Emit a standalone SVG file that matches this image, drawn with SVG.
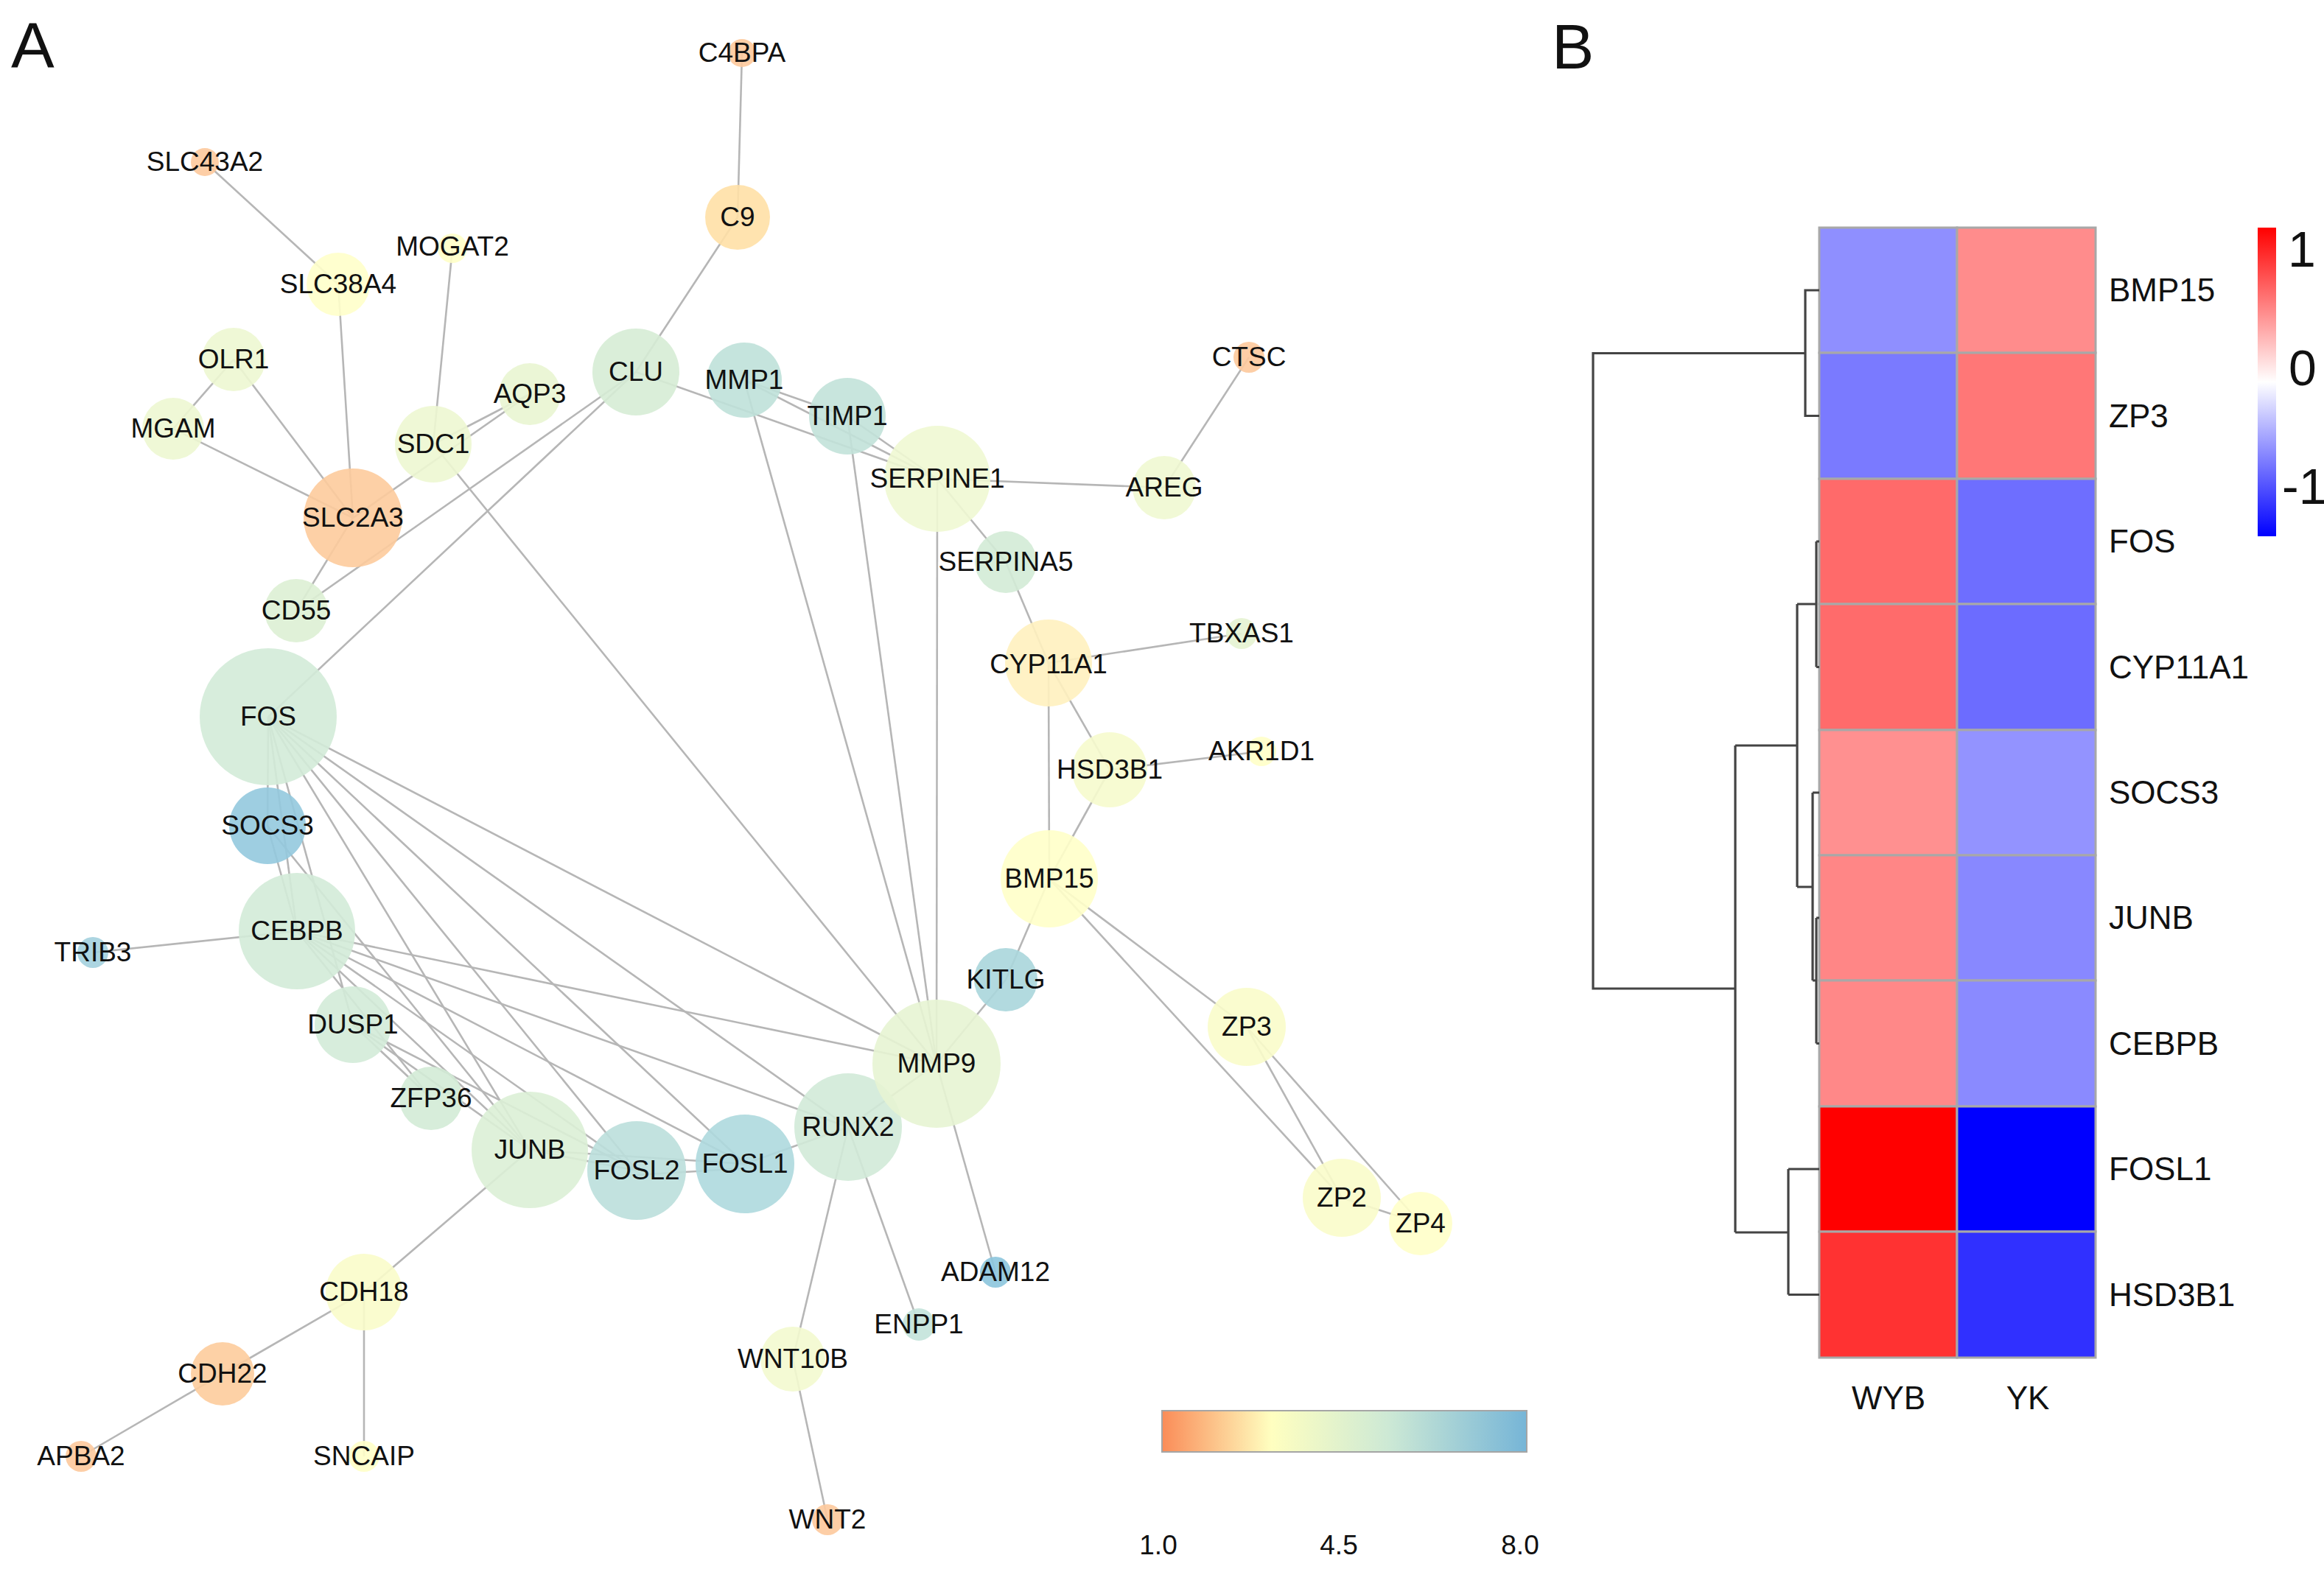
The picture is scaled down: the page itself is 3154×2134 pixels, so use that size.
<svg xmlns="http://www.w3.org/2000/svg" width="3154" height="2134" viewBox="0 0 3154 2134">
<defs>
<style>
.e{stroke:#b6b6b6;stroke-width:2.6;fill:none}
.n circle{opacity:0.9}
.n text{font-family:"Liberation Sans",Arial,sans-serif;font-size:37px;fill:#111;text-anchor:middle}
.t{font-family:"Liberation Sans",Arial,sans-serif;fill:#111}
.cell{stroke:#a8a8a8;stroke-width:3}
.den{stroke:#444;stroke-width:3.2;fill:none}
</style>
<linearGradient id="gNet" x1="0" y1="0" x2="1" y2="0">
<stop offset="0" stop-color="#FA8C58"/>
<stop offset="0.3" stop-color="#FFFFC0"/>
<stop offset="0.62" stop-color="#CDE9D5"/>
<stop offset="1" stop-color="#76B5D7"/>
</linearGradient>
<linearGradient id="gHeat" x1="0" y1="0" x2="0" y2="1">
<stop offset="0" stop-color="#FF0000"/>
<stop offset="0.5" stop-color="#FFFFFF"/>
<stop offset="1" stop-color="#0000FF"/>
</linearGradient>
</defs>
<rect width="3154" height="2134" fill="#ffffff"/>
<text class="t" x="15" y="92" font-size="88">A</text>
<text class="t" x="2106" y="93" font-size="86">B</text>

<g id="edges">
<line class="e" x1="1007" y1="72" x2="1001" y2="295"/>
<line class="e" x1="1001" y1="295" x2="863" y2="505"/>
<line class="e" x1="278" y1="220" x2="459" y2="386"/>
<line class="e" x1="459" y1="386" x2="479" y2="703"/>
<line class="e" x1="614" y1="337" x2="588" y2="603"/>
<line class="e" x1="317" y1="488" x2="235" y2="582"/>
<line class="e" x1="317" y1="488" x2="479" y2="703"/>
<line class="e" x1="235" y1="582" x2="479" y2="703"/>
<line class="e" x1="479" y1="703" x2="719" y2="535"/>
<line class="e" x1="588" y1="603" x2="719" y2="535"/>
<line class="e" x1="479" y1="703" x2="402" y2="829"/>
<line class="e" x1="402" y1="829" x2="863" y2="505"/>
<line class="e" x1="364" y1="973" x2="863" y2="505"/>
<line class="e" x1="863" y1="505" x2="1272" y2="650"/>
<line class="e" x1="1010" y1="516" x2="1150" y2="565"/>
<line class="e" x1="1010" y1="516" x2="1272" y2="650"/>
<line class="e" x1="1150" y1="565" x2="1272" y2="650"/>
<line class="e" x1="1010" y1="516" x2="1271" y2="1444"/>
<line class="e" x1="1150" y1="565" x2="1271" y2="1444"/>
<line class="e" x1="1272" y1="650" x2="1271" y2="1444"/>
<line class="e" x1="1272" y1="650" x2="1580" y2="662"/>
<line class="e" x1="1580" y1="662" x2="1695" y2="485"/>
<line class="e" x1="1272" y1="650" x2="1365" y2="763"/>
<line class="e" x1="1365" y1="763" x2="1423" y2="900"/>
<line class="e" x1="1423" y1="900" x2="1685" y2="860"/>
<line class="e" x1="1423" y1="900" x2="1506" y2="1045"/>
<line class="e" x1="1423" y1="900" x2="1424" y2="1193"/>
<line class="e" x1="1506" y1="1045" x2="1712" y2="1020"/>
<line class="e" x1="1506" y1="1045" x2="1424" y2="1193"/>
<line class="e" x1="1424" y1="1193" x2="1365" y2="1330"/>
<line class="e" x1="1365" y1="1330" x2="1271" y2="1444"/>
<line class="e" x1="1424" y1="1193" x2="1692" y2="1394"/>
<line class="e" x1="1424" y1="1193" x2="1821" y2="1626"/>
<line class="e" x1="1692" y1="1394" x2="1821" y2="1626"/>
<line class="e" x1="1692" y1="1394" x2="1928" y2="1661"/>
<line class="e" x1="1821" y1="1626" x2="1928" y2="1661"/>
<line class="e" x1="1271" y1="1444" x2="1351" y2="1727"/>
<line class="e" x1="1151" y1="1530" x2="1247" y2="1798"/>
<line class="e" x1="1151" y1="1530" x2="1076" y2="1845"/>
<line class="e" x1="1076" y1="1845" x2="1123" y2="2063"/>
<line class="e" x1="588" y1="603" x2="1271" y2="1444"/>
<line class="e" x1="364" y1="973" x2="1271" y2="1444"/>
<line class="e" x1="364" y1="973" x2="1151" y2="1530"/>
<line class="e" x1="364" y1="973" x2="1011" y2="1580"/>
<line class="e" x1="364" y1="973" x2="864" y2="1589"/>
<line class="e" x1="364" y1="973" x2="719" y2="1561"/>
<line class="e" x1="364" y1="973" x2="479" y2="1391"/>
<line class="e" x1="364" y1="973" x2="403" y2="1264"/>
<line class="e" x1="364" y1="973" x2="363" y2="1121"/>
<line class="e" x1="363" y1="1121" x2="403" y2="1264"/>
<line class="e" x1="363" y1="1121" x2="719" y2="1561"/>
<line class="e" x1="403" y1="1264" x2="126" y2="1293"/>
<line class="e" x1="403" y1="1264" x2="719" y2="1561"/>
<line class="e" x1="403" y1="1264" x2="864" y2="1589"/>
<line class="e" x1="403" y1="1264" x2="1011" y2="1580"/>
<line class="e" x1="403" y1="1264" x2="1151" y2="1530"/>
<line class="e" x1="403" y1="1264" x2="1271" y2="1444"/>
<line class="e" x1="403" y1="1264" x2="585" y2="1491"/>
<line class="e" x1="479" y1="1391" x2="585" y2="1491"/>
<line class="e" x1="479" y1="1391" x2="719" y2="1561"/>
<line class="e" x1="479" y1="1391" x2="864" y2="1589"/>
<line class="e" x1="719" y1="1561" x2="864" y2="1589"/>
<line class="e" x1="719" y1="1561" x2="1011" y2="1580"/>
<line class="e" x1="864" y1="1595" x2="1011" y2="1586"/>
<line class="e" x1="1011" y1="1580" x2="1151" y2="1530"/>
<line class="e" x1="1151" y1="1530" x2="1271" y2="1444"/>
<line class="e" x1="719" y1="1561" x2="494" y2="1754"/>
<line class="e" x1="494" y1="1754" x2="302" y2="1865"/>
<line class="e" x1="494" y1="1754" x2="494" y2="1977"/>
<line class="e" x1="302" y1="1865" x2="110" y2="1977"/>
</g>

<g id="node-C4BPA" class="n"><circle cx="1007" cy="72" r="19" fill="#FDC99C"/><text x="1007" y="84">C4BPA</text></g>
<g id="node-SLC43A2" class="n"><circle cx="278" cy="220" r="19" fill="#FDC99C"/><text x="278" y="232">SLC43A2</text></g>
<g id="node-C9" class="n"><circle cx="1001" cy="295" r="44" fill="#FFE0A6"/><text x="1001" y="307">C9</text></g>
<g id="node-MOGAT2" class="n"><circle cx="614" cy="337" r="20" fill="#FFFFC8"/><text x="614" y="347">MOGAT2</text></g>
<g id="node-SLC38A4" class="n"><circle cx="459" cy="386" r="43" fill="#FFFFCA"/><text x="459" y="398">SLC38A4</text></g>
<g id="node-OLR1" class="n"><circle cx="317" cy="488" r="43" fill="#EDF7D2"/><text x="317" y="500">OLR1</text></g>
<g id="node-MGAM" class="n"><circle cx="235" cy="582" r="42" fill="#EDF7D2"/><text x="235" y="594">MGAM</text></g>
<g id="node-AQP3" class="n"><circle cx="719" cy="535" r="42" fill="#E9F5D1"/><text x="719" y="547">AQP3</text></g>
<g id="node-CLU" class="n"><circle cx="863" cy="505" r="59" fill="#D6ECD5"/><text x="863" y="517">CLU</text></g>
<g id="node-MMP1" class="n"><circle cx="1010" cy="516" r="51" fill="#BFE1D9"/><text x="1010" y="528">MMP1</text></g>
<g id="node-SDC1" class="n"><circle cx="588" cy="603" r="52" fill="#EDF7D2"/><text x="588" y="615">SDC1</text></g>
<g id="node-SLC2A3" class="n"><circle cx="479" cy="703" r="67" fill="#FDCB9C"/><text x="479" y="715">SLC2A3</text></g>
<g id="node-CD55" class="n"><circle cx="402" cy="829" r="43" fill="#DDF0D4"/><text x="402" y="841">CD55</text></g>
<g id="node-TIMP1" class="n"><circle cx="1150" cy="565" r="52" fill="#C2E2D9"/><text x="1150" y="577">TIMP1</text></g>
<g id="node-SERPINE1" class="n"><circle cx="1272" cy="650" r="72" fill="#F0F8D3"/><text x="1272" y="662">SERPINE1</text></g>
<g id="node-AREG" class="n"><circle cx="1580" cy="662" r="43" fill="#F0F8D1"/><text x="1580" y="674">AREG</text></g>
<g id="node-CTSC" class="n"><circle cx="1695" cy="485" r="21" fill="#FDC99C"/><text x="1695" y="497">CTSC</text></g>
<g id="node-SERPINA5" class="n"><circle cx="1365" cy="763" r="42" fill="#D3EBD6"/><text x="1365" y="775">SERPINA5</text></g>
<g id="node-TBXAS1" class="n"><circle cx="1685" cy="860" r="21" fill="#E6F3D1"/><text x="1685" y="872">TBXAS1</text></g>
<g id="node-CYP11A1" class="n"><circle cx="1423" cy="900" r="59" fill="#FFF1BF"/><text x="1423" y="914">CYP11A1</text></g>
<g id="node-HSD3B1" class="n"><circle cx="1506" cy="1045" r="51" fill="#F6FBCD"/><text x="1506" y="1057">HSD3B1</text></g>
<g id="node-AKR1D1" class="n"><circle cx="1712" cy="1020" r="20" fill="#FFFFC8"/><text x="1712" y="1032">AKR1D1</text></g>
<g id="node-BMP15" class="n"><circle cx="1424" cy="1193" r="66" fill="#FFFFC9"/><text x="1424" y="1205">BMP15</text></g>
<g id="node-KITLG" class="n"><circle cx="1365" cy="1330" r="43" fill="#AAD6DC"/><text x="1365" y="1342">KITLG</text></g>
<g id="node-ZP3" class="n"><circle cx="1692" cy="1394" r="53" fill="#F9FCCA"/><text x="1692" y="1406">ZP3</text></g>
<g id="node-ZP2" class="n"><circle cx="1821" cy="1626" r="53" fill="#F9FCCA"/><text x="1821" y="1638">ZP2</text></g>
<g id="node-ZP4" class="n"><circle cx="1928" cy="1661" r="43" fill="#FFFFC9"/><text x="1928" y="1673">ZP4</text></g>
<g id="node-RUNX2" class="n"><circle cx="1151" cy="1530" r="73" fill="#D2EAD8"/><text x="1151" y="1542">RUNX2</text></g>
<g id="node-MMP9" class="n"><circle cx="1271" cy="1444" r="87" fill="#E7F4D3"/><text x="1271" y="1456">MMP9</text></g>
<g id="node-FOSL1" class="n"><circle cx="1011" cy="1580" r="67" fill="#AED9DE"/><text x="1011" y="1592">FOSL1</text></g>
<g id="node-FOSL2" class="n"><circle cx="864" cy="1589" r="67" fill="#BBDFDB"/><text x="864" y="1601">FOSL2</text></g>
<g id="node-JUNB" class="n"><circle cx="719" cy="1561" r="79" fill="#DBEFD6"/><text x="719" y="1573">JUNB</text></g>
<g id="node-ZFP36" class="n"><circle cx="585" cy="1491" r="43" fill="#D3EBD6"/><text x="585" y="1503">ZFP36</text></g>
<g id="node-DUSP1" class="n"><circle cx="479" cy="1391" r="52" fill="#D3EBD8"/><text x="479" y="1403">DUSP1</text></g>
<g id="node-CEBPB" class="n"><circle cx="403" cy="1264" r="79" fill="#D3EBD8"/><text x="403" y="1276">CEBPB</text></g>
<g id="node-SOCS3" class="n"><circle cx="363" cy="1121" r="52" fill="#93C9DE"/><text x="363" y="1133">SOCS3</text></g>
<g id="node-TRIB3" class="n"><circle cx="126" cy="1293" r="21" fill="#A3D0DE"/><text x="126" y="1305">TRIB3</text></g>
<g id="node-FOS" class="n"><circle cx="364" cy="973" r="93" fill="#D3EBD8"/><text x="364" y="985">FOS</text></g>
<g id="node-CDH18" class="n"><circle cx="494" cy="1754" r="52" fill="#F9FCCA"/><text x="494" y="1766">CDH18</text></g>
<g id="node-CDH22" class="n"><circle cx="302" cy="1865" r="43" fill="#FDCC9C"/><text x="302" y="1877">CDH22</text></g>
<g id="node-APBA2" class="n"><circle cx="110" cy="1977" r="21" fill="#FDC99C"/><text x="110" y="1989">APBA2</text></g>
<g id="node-SNCAIP" class="n"><circle cx="494" cy="1977" r="21" fill="#FFFFC8"/><text x="494" y="1989">SNCAIP</text></g>
<g id="node-ADAM12" class="n"><circle cx="1351" cy="1727" r="21" fill="#8CC5DD"/><text x="1351" y="1739">ADAM12</text></g>
<g id="node-ENPP1" class="n"><circle cx="1247" cy="1798" r="22" fill="#C3E3DA"/><text x="1247" y="1810">ENPP1</text></g>
<g id="node-WNT10B" class="n"><circle cx="1076" cy="1845" r="44" fill="#F3FACF"/><text x="1076" y="1857">WNT10B</text></g>
<g id="node-WNT2" class="n"><circle cx="1123" cy="2063" r="21" fill="#FDC99C"/><text x="1123" y="2075">WNT2</text></g>

<g id="legend-network">
<rect x="1577" y="1915" width="495" height="56" fill="url(#gNet)" stroke="#a5a5a5" stroke-width="2"/>
<text class="t" x="1572" y="2110" font-size="37" text-anchor="middle" fill="#222">1.0</text>
<text class="t" x="1817" y="2110" font-size="37" text-anchor="middle" fill="#222">4.5</text>
<text class="t" x="2063" y="2110" font-size="37" text-anchor="middle" fill="#222">8.0</text>
</g>

<g id="heatmap">
<rect class="cell" x="2469" y="309" width="187" height="170" fill="#8F8FFF"/>
<rect class="cell" x="2656" y="309" width="188" height="170" fill="#FF8C8C"/>
<rect class="cell" x="2469" y="479" width="187" height="171" fill="#7A7AFF"/>
<rect class="cell" x="2656" y="479" width="188" height="171" fill="#FF7777"/>
<rect class="cell" x="2469" y="650" width="187" height="170" fill="#FF6A6A"/>
<rect class="cell" x="2656" y="650" width="188" height="170" fill="#6E6EFF"/>
<rect class="cell" x="2469" y="820" width="187" height="171" fill="#FF6B6B"/>
<rect class="cell" x="2656" y="820" width="188" height="171" fill="#6C6CFF"/>
<rect class="cell" x="2469" y="991" width="187" height="170" fill="#FF9090"/>
<rect class="cell" x="2656" y="991" width="188" height="170" fill="#9393FF"/>
<rect class="cell" x="2469" y="1161" width="187" height="170" fill="#FF8686"/>
<rect class="cell" x="2656" y="1161" width="188" height="170" fill="#8888FF"/>
<rect class="cell" x="2469" y="1331" width="187" height="171" fill="#FF8888"/>
<rect class="cell" x="2656" y="1331" width="188" height="171" fill="#8A8AFF"/>
<rect class="cell" x="2469" y="1502" width="187" height="170" fill="#FF0000"/>
<rect class="cell" x="2656" y="1502" width="188" height="170" fill="#0000FF"/>
<rect class="cell" x="2469" y="1672" width="187" height="171" fill="#FF3232"/>
<rect class="cell" x="2656" y="1672" width="188" height="171" fill="#3030FF"/>
</g>
<g id="row-labels" class="t" font-size="44">
<text x="2862" y="409">BMP15</text>
<text x="2862" y="580">ZP3</text>
<text x="2862" y="750">FOS</text>
<text x="2862" y="921">CYP11A1</text>
<text x="2862" y="1091">SOCS3</text>
<text x="2862" y="1261">JUNB</text>
<text x="2862" y="1432">CEBPB</text>
<text x="2862" y="1602">FOSL1</text>
<text x="2862" y="1773">HSD3B1</text>
</g>
<g id="col-labels" class="t" font-size="44" text-anchor="middle">
<text x="2563" y="1913">WYB</text>
<text x="2752" y="1913">YK</text>
</g>
<g id="dendrogram">
<path class="den" d="M2469,394 H2450 V564.5 H2469 M2450,479.5 H2162 V1342 H2355 M2355,1012 V1673 M2355,1012 H2439 M2439,820 V1204 M2439,820 H2465 M2465,735 V905.5 M2465,735 H2469 M2465,905.5 H2469 M2439,1204 H2460 M2460,1076 V1331 M2460,1076 H2469 M2460,1331 H2465 M2465,1246 V1416.5 M2465,1246 H2469 M2465,1416.5 H2469 M2355,1673 H2427 M2427,1587 V1757.5 M2427,1587 H2469 M2427,1757.5 H2469"/>
</g>
<g id="legend-heatmap">
<rect x="3064" y="309" width="25" height="419" fill="url(#gHeat)"/>
<text class="t" x="3105" y="362" font-size="68">1</text>
<text class="t" x="3106" y="523" font-size="68">0</text>
<text class="t" x="3097" y="684" font-size="68">-1</text>
</g>
</svg>
